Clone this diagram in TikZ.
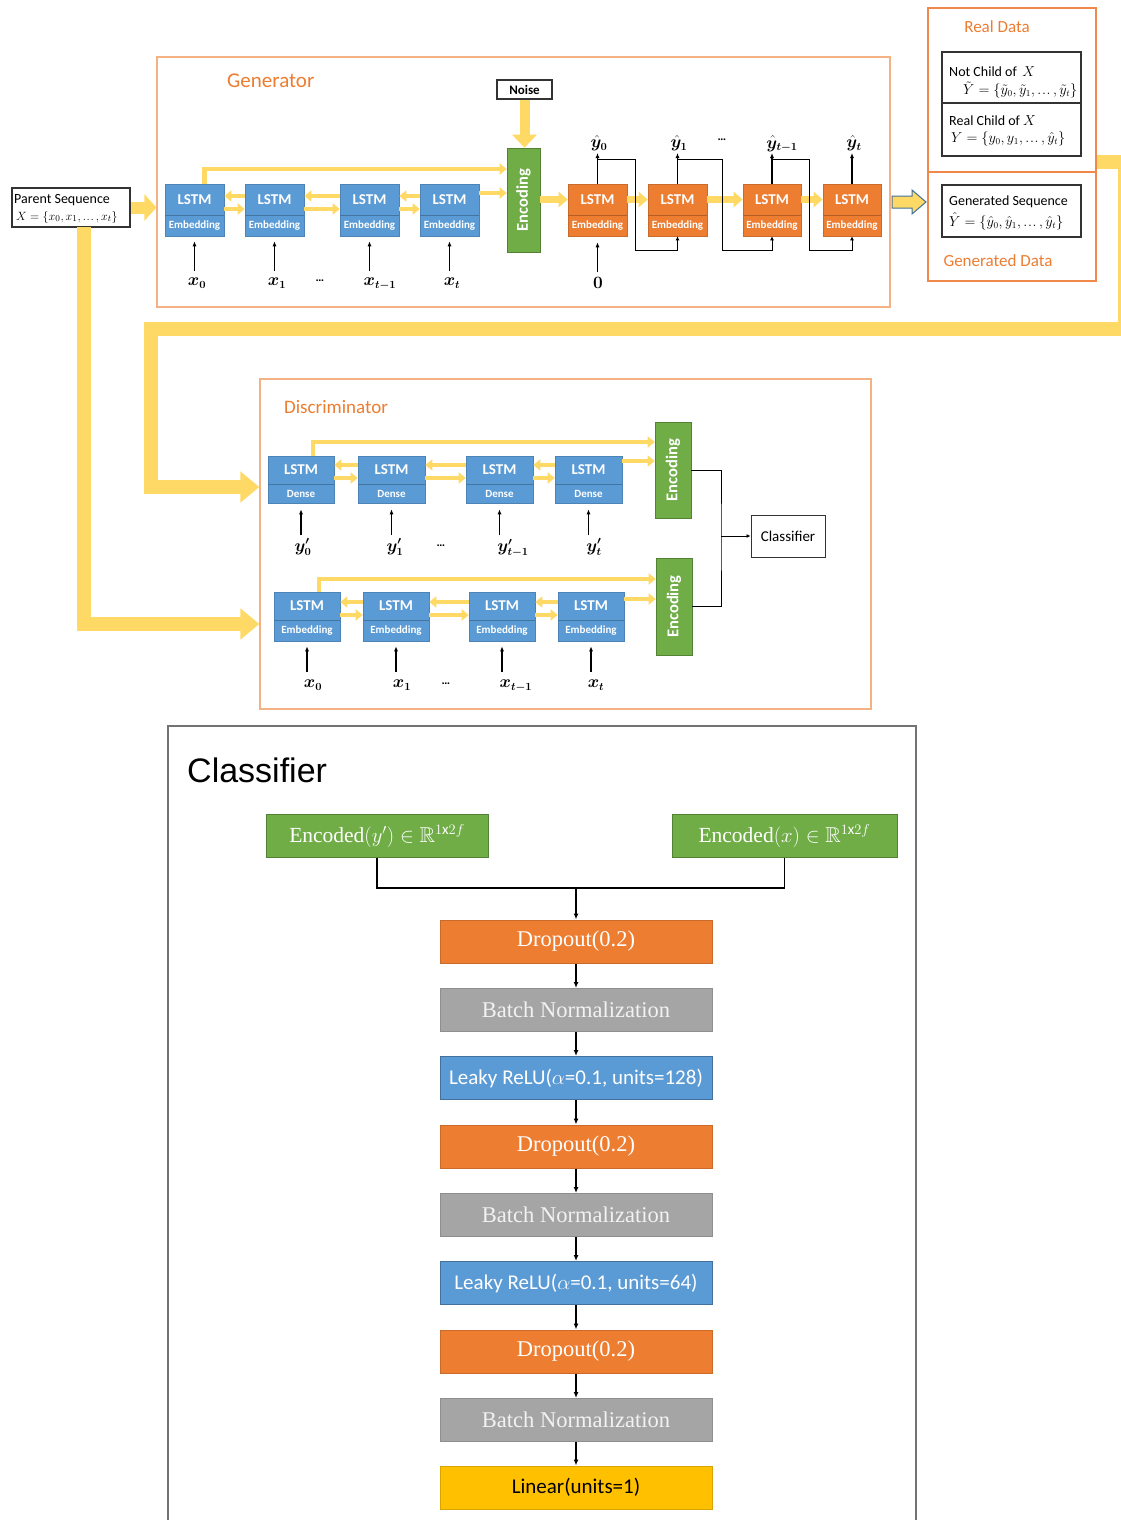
\documentclass[tikz,border=0pt]{standalone}
\usepackage{amsmath,amssymb,bm}
\usepackage{fontspec}
\setmainfont{Carlito}
\newfontfamily\serifcam{Liberation Serif}
\newfontfamily\arialf{Liberation Sans}
\usetikzlibrary{arrows.meta,fit,calc}
\definecolor{cblue}{HTML}{5B9BD5}
\definecolor{corange}{HTML}{ED7D31}
\definecolor{cgreen}{HTML}{70AD47}
\definecolor{cgreenD}{HTML}{548235}
\definecolor{cgray}{HTML}{A5A5A5}
\definecolor{cgrayD}{HTML}{8E8E8E}
\definecolor{cyel}{HTML}{FFD966}
\definecolor{cgold}{HTML}{FFC000}
\definecolor{cframe}{HTML}{F4B183}
\definecolor{cframeD}{HTML}{F0884A}
\definecolor{cblueD}{HTML}{41719C}
\newcommand\cdts{\mathinner{\ldotp\mkern-2mu\ldotp\mkern-2mu\ldotp}}
\newcommand\cell[8]{%
  \pgfmathsetmacro\mycx{(#2+#4)/2}%
  \pgfmathsetmacro\mytopy{(#3+#6)/2}%
  \pgfmathsetmacro\mybty{(#6+#5)/2}%
  \node[cellbox, fill=#7, draw=#7!85!black, fit={(#2,#3)(#4,#5)}] (#1) {};
  \draw[#7!75!black, line width=0.8pt] (#2,#6) -- (#4,#6);
  \node[celltop] (#1t) at (\mycx,\mytopy) {LSTM};
  \node[cellbot] (#1b) at (\mycx,\mybty) {#8};
}
\begin{document}
\begin{tikzpicture}[x=1pt,y=-1pt,
  cellbox/.style={inner sep=0pt, line width=0.6pt},
  celltop/.style={text=white, inner sep=0pt, font=\bfseries\fontsize{15}{17}\selectfont},
  cellbot/.style={text=white, inner sep=0pt, font=\bfseries\fontsize{11}{13}\selectfont},
  frame/.style={draw=cframe, line width=1.2pt, inner sep=0pt},
  frameD/.style={draw=cframeD, line width=1.2pt, inner sep=0pt},
  blackbox/.style={draw=black!80, line width=1.2pt, inner sep=0pt},
  enc/.style={fill=cgreen, draw=cgreenD, line width=0.6pt, inner sep=0pt},
  enctext/.style={text=white, rotate=90, inner sep=0pt, font=\bfseries\fontsize{16.5}{18}\selectfont},
  ttl/.style={text=corange, inner sep=0pt, font=\fontsize{19}{22}\selectfont},
  ysm/.style={draw=cyel, line width=4.5pt, -{Triangle[length=7pt,width=11pt]}},
  ymid/.style={draw=cyel, line width=7pt, -{Triangle[length=9pt,width=15pt]}},
  bigyl/.style={draw=cyel, line width=14pt, line join=miter, -{Triangle[length=19pt,width=30pt]}},
  blk/.style={draw=black, line width=1.1pt, -{Latex[length=5pt,width=4pt]}},
  fb/.style={draw=black, line width=1pt, -{Latex[length=4pt,width=4pt]}},
  lbl/.style={inner sep=1pt, font=\fontsize{16}{18}\selectfont},
  dots/.style={inner sep=0pt, font=\bfseries\fontsize{12}{14}\selectfont},
  small/.style={inner sep=0pt, anchor=west, font=\fontsize{14}{16}\selectfont},
  smallm/.style={inner sep=0pt, anchor=west, font=\fontsize{13.4}{16}\selectfont},
  stk/.style={minimum width=272pt, minimum height=43pt, inner sep=0pt, line width=1pt, text=white, font=\fontsize{22.5}{26}\selectfont},
  stkarr/.style={draw=black, line width=1.2pt, -{Latex[length=6pt,width=5pt]}}
]
\useasboundingbox (0,0) rectangle (1121,1520);
\fill[white] (0,0) rectangle (1121,1520);

% ---------------- Generator ----------------
\node[frame, fit={(157,57)(890,307)}] (gbox) {};
\node[ttl, anchor=west, font=\fontsize{21}{24}\selectfont] (gttl) at (227,81) {Generator};

\node[blackbox, fit={(12,188)(130,227)}] (ps) {};
\node[small] (pst1) at (14,200) {Parent Sequence};
\node[smallm, font=\fontsize{12.6}{15}\selectfont] (pst2) at (16,217) {$X=\{x_0,x_1,\cdts,x_t\}$};

\cell{g1}{165}{184}{224}{236}{215}{cblue}{Embedding}
\cell{g2}{245}{184}{304}{236}{215}{cblue}{Embedding}
\cell{g3}{340}{184}{399}{236}{215}{cblue}{Embedding}
\cell{g4}{420}{184}{479}{236}{215}{cblue}{Embedding}

\node[enc, fit={(507,148)(540,252)}] (genc) {};
\node[enctext] (genct) at (genc.center) {Encoding};
\node[blackbox, fit={(497,80)(552,99)}] (noise) {};
\node[inner sep=0pt, font=\bfseries\fontsize{13}{15}\selectfont] (noiset) at (noise.center) {Noise};

\cell{o1}{568}{184}{627}{236}{215}{corange}{Embedding}
\cell{o2}{648}{184}{707}{236}{215}{corange}{Embedding}
\cell{o3}{743}{184}{801}{236}{215}{corange}{Embedding}
\cell{o4}{823}{184}{881}{236}{215}{corange}{Embedding}

% generator yellow arrows
\coordinate (gyu) at (0,196);
\coordinate (gyl) at (0,209);
\coordinate (gyb) at (0,169);
\coordinate (gy4) at (0,193);
\draw[ysm] (g2.west |- gyu) -- (g1.east |- gyu);
\draw[ysm] (g1.east |- gyl) -- (g2.west |- gyl);
\draw[ysm] (g3.west |- gyu) -- (g2.east |- gyu);
\draw[ysm] (g2.east |- gyl) -- (g3.west |- gyl);
\draw[ysm] (g4.west |- gyu) -- (g3.east |- gyu);
\draw[ysm] (g3.east |- gyl) -- (g4.west |- gyl);
\draw[ysm] ($(g1.north)+(10,0)$) |- (genc.west |- gyb);
\draw[ysm] (g4.east |- gy4) -- (genc.west |- gy4);
\draw[draw=cyel, line width=10pt, -{Triangle[length=13pt,width=24pt]}] (noise.south) -- (genc.north -| noise.south);
\draw[ymid] (genc.east |- o1t) -- (o1.west |- o1t);
\draw[ymid] (o1.east |- o1t) -- (o2.west |- o1t);
\draw[ymid] (o2.east |- o1t) -- (o3.west |- o1t);
\draw[ymid] (o3.east |- o1t) -- (o4.west |- o1t);
\draw[draw=cyel, line width=12pt, -{Triangle[length=12pt,width=26pt]}] (ps.east) -- (gbox.west |- ps.east);

% x inputs
\node[lbl] (gx0) at (197,283) {$\bm{x_0}$};
\node[lbl] (gx1) at (277,283) {$\bm{x_1}$};
\node[lbl] (gx2) at (380,284) {$\bm{x_{t-1}}$};
\node[lbl] (gx3) at (452,283) {$\bm{x_t}$};
\node[dots] (gdots) at (320,281) {…};
\draw[blk] (g1.south |- 0,271) -- ($(g1.south)+(0,5)$);
\draw[blk] (g2.south |- 0,271) -- ($(g2.south)+(0,5)$);
\draw[blk] (g3.south |- 0,271) -- ($(g3.south)+(0,5)$);
\draw[blk] (g4.south |- 0,271) -- ($(g4.south)+(0,5)$);
\node[lbl] (zero) at (598,283) {$\bm{0}$};
\draw[blk] (o1.south |- 0,272) -- ($(o1.south)+(0,6)$);

% y hat outputs
\node[lbl] (yh0) at (599,143) {$\bm{\hat y_0}$};
\node[lbl] (yh1) at (679,143) {$\bm{\hat y_1}$};
\node[lbl] (yh2) at (782,144) {$\bm{\hat y_{t-1}}$};
\node[lbl] (yh3) at (854,143) {$\bm{\hat y_t}$};
\node[dots] (ydots) at (722,140) {…};
\draw[blk] (o1.north) -- (o1.north |- 0,153);
\draw[blk] (o2.north) -- (o2.north |- 0,153);
\draw[blk] (o3.north) -- (o3.north |- 0,153);
\draw[blk] (o4.north) -- (o4.north |- 0,153);
\draw[fb] ($(o1.north)+(0,-24)$) -| ++(38,91) -| (o2.south);
\draw[fb] ($(o2.north)+(0,-24)$) -| ++(44.5,91) -| (o3.south);
\draw[fb] ($(o3.north)+(0,-24)$) -| ++(37,91) -| (o4.south);

% ---------------- Real / Generated data ----------------
\node[frameD, fit={(928,8)(1096,172)}] (rdbox) {};
\node[ttl, font=\fontsize{17}{20}\selectfont] (rdt) at (997,27) {Real Data};
\node[blackbox, fit={(942,52)(1081,156)}] (rdin) {};
\draw[black!80, line width=1.2pt] (rdin.west |- 0,103) -- (rdin.east |- 0,103);
\node[small] (rt1) at (949,72) {Not Child of \,$X$};
\node[smallm] (rt2) at (963,90) {$\tilde Y=\{\tilde y_0,\tilde y_1,\cdts,\tilde y_t\}$};
\node[small] (rt3) at (949,121) {Real Child of $X$};
\node[smallm] (rt4) at (951,139) {$Y=\{y_0,y_1,\cdts,\hat y_t\}$};
\node[frameD, fit={(928,172)(1096,281)}] (gdbox) {};
\node[ttl, font=\fontsize{17}{20}\selectfont] (gdt) at (998,261) {Generated Data};
\node[blackbox, fit={(942,185)(1081,237)}] (gdin) {};
\node[small] (gt1) at (949,202) {Generated Sequence};
\node[smallm] (gt2) at (949,221) {$\hat Y=\{\hat y_0,\hat y_1,\cdts,\hat y_t\}$};
\draw[draw=cblueD, fill=cyel, line width=1pt, line join=miter] (892,196) -- (912,196) -- (912,190) -- (926,202) -- (912,214) -- (912,208) -- (892,208) -- cycle;

% ---------------- Discriminator ----------------
\node[frame, fit={(260,379)(871,709)}] (dbox) {};
\node[ttl, anchor=west, font=\fontsize{19}{22}\selectfont] (dttl) at (284,407) {Discriminator};

\cell{d1}{268}{456}{334}{503}{484}{cblue}{Dense}
\cell{d2}{358}{456}{425}{503}{484}{cblue}{Dense}
\cell{d3}{466}{456}{533}{503}{484}{cblue}{Dense}
\cell{d4}{555}{456}{622}{503}{484}{cblue}{Dense}
\cell{e1}{274}{592}{340}{641}{620}{cblue}{Embedding}
\cell{e2}{363}{592}{429}{641}{620}{cblue}{Embedding}
\cell{e3}{469}{592}{535}{641}{620}{cblue}{Embedding}
\cell{e4}{558}{592}{624}{641}{620}{cblue}{Embedding}
\node[enc, fit={(655,422)(691,518)}] (denc1) {};
\node[enctext] (denc1t) at (denc1.center) {Encoding};
\node[enc, fit={(656,558)(692,655)}] (denc2) {};
\node[enctext] (denc2t) at (denc2.center) {Encoding};

\coordinate (dyu) at (0,465);
\coordinate (dyl) at (0,478);
\coordinate (dyb) at (0,442);
\coordinate (dy4) at (0,461);
\draw[ysm] (d2.west |- dyu) -- (d1.east |- dyu);
\draw[ysm] (d1.east |- dyl) -- (d2.west |- dyl);
\draw[ysm] (d3.west |- dyu) -- (d2.east |- dyu);
\draw[ysm] (d2.east |- dyl) -- (d3.west |- dyl);
\draw[ysm] (d4.west |- dyu) -- (d3.east |- dyu);
\draw[ysm] (d3.east |- dyl) -- (d4.west |- dyl);
\draw[ysm] ($(d1.north)+(12,0)$) |- (denc1.west |- dyb);
\draw[ysm] (d4.east |- dy4) -- (denc1.west |- dy4);

\coordinate (eyu) at (0,602);
\coordinate (eyl) at (0,615);
\coordinate (eyb) at (0,579);
\coordinate (ey4) at (0,599);
\draw[ysm] (e2.west |- eyu) -- (e1.east |- eyu);
\draw[ysm] (e1.east |- eyl) -- (e2.west |- eyl);
\draw[ysm] (e3.west |- eyu) -- (e2.east |- eyu);
\draw[ysm] (e2.east |- eyl) -- (e3.west |- eyl);
\draw[ysm] (e4.west |- eyu) -- (e3.east |- eyu);
\draw[ysm] (e3.east |- eyl) -- (e4.west |- eyl);
\draw[ysm] ($(e1.north)+(12,0)$) |- (denc2.west |- eyb);
\draw[ysm] (e4.east |- ey4) -- (denc2.west |- ey4);

\node[lbl] (dy0) at (303,547) {$\bm{y'_0}$};
\node[lbl] (dy1) at (395,547) {$\bm{y'_1}$};
\node[lbl] (dy2) at (513,548) {$\bm{y'_{t-1}}$};
\node[lbl] (dy3) at (594,547) {$\bm{y'_t}$};
\node[dots] (dydots) at (441,546) {…};
\draw[blk] (d1.south |- 0,535) -- ($(d1.south)+(0,6)$);
\draw[blk] (d2.south |- 0,535) -- ($(d2.south)+(0,6)$);
\draw[blk] (d3.south |- 0,535) -- ($(d3.south)+(0,6)$);
\draw[blk] (d4.south |- 0,535) -- ($(d4.south)+(0,6)$);

\node[lbl] (ex0) at (313,685) {$\bm{x_0}$};
\node[lbl] (ex1) at (402,685) {$\bm{x_1}$};
\node[lbl] (ex2) at (516,686) {$\bm{x_{t-1}}$};
\node[lbl] (ex3) at (596,685) {$\bm{x_t}$};
\node[dots] (exdots) at (446,684) {…};
\draw[blk] (e1.south |- 0,672) -- ($(e1.south)+(0,5)$);
\draw[blk] (e2.south |- 0,672) -- ($(e2.south)+(0,5)$);
\draw[blk] (e3.south |- 0,672) -- ($(e3.south)+(0,5)$);
\draw[blk] (e4.south |- 0,672) -- ($(e4.south)+(0,5)$);

\node[blackbox, line width=1pt, fit={(751,515)(825,557)}] (clf) {};
\node[inner sep=0pt, font=\fontsize{15}{17}\selectfont] (clft) at (clf.center) {Classifier};
\coordinate (jc) at (721,536);
\draw[black, line width=1pt] (denc1.east) -| (jc) |- (denc2.east);
\draw[fb] (jc) -- (clf.west);

% big yellow connectors
\coordinate (psb) at (84,227);
\draw[bigyl] (rdbox.east |- 0,162) -- (1125,162) -- (1125,329) -- (151,329) -- (151,487) -- (dbox.west |- 0,487);
\draw[bigyl] (psb) -- (84,624) -- (dbox.west |- 0,624);

% ---------------- Classifier ----------------
\draw[draw=black!55, line width=1.2pt] (168,1530) -- (168,726) -- (916,726) -- (916,1530);
\node[anchor=west, inner sep=0pt, font=\arialf\fontsize{34}{40}\selectfont] (ctitle) at (187,770) {Classifier};
\node[stk, minimum width=222pt, fill=cgreen, draw=cgreenD, font=\fontsize{21.5}{25}\selectfont] (ey) at (377,836) {\serifcam Encoded$(y')\in\mathbb{R}^{1\mathrm{x}2f}$};
\node[stk, minimum width=225pt, fill=cgreen, draw=cgreenD, font=\fontsize{21.5}{25}\selectfont] (ex) at (784.5,836) {\serifcam Encoded$(x)\in\mathbb{R}^{1\mathrm{x}2f}$};
\coordinate (jn) at (576,888);
\draw[black, line width=1.2pt] (ey.south) |- (jn) -| (ex.south);

\node[stk, fill=corange, draw=corange!85!black] (s1) at (576,941.5) {\serifcam Dropout(0.2)};
\node[stk, fill=cgray, draw=cgrayD, text=white!95!black] (s2) at (576,1010) {\serifcam Batch Normalization};
\node[stk, fill=cblue, draw=cblueD, font=\fontsize{21}{24}\selectfont] (s3) at (576,1078) {Leaky ReLU($\alpha$=0.1, units=128)};
\node[stk, fill=corange, draw=corange!85!black] (s4) at (576,1146.5) {\serifcam Dropout(0.2)};
\node[stk, fill=cgray, draw=cgrayD, text=white!95!black] (s5) at (576,1215) {\serifcam Batch Normalization};
\node[stk, fill=cblue, draw=cblueD, font=\fontsize{21}{24}\selectfont] (s6) at (576,1283) {Leaky ReLU($\alpha$=0.1, units=64)};
\node[stk, fill=corange, draw=corange!85!black] (s7) at (576,1351.5) {\serifcam Dropout(0.2)};
\node[stk, fill=cgray, draw=cgrayD, text=white!95!black] (s8) at (576,1420) {\serifcam Batch Normalization};
\node[stk, fill=cgold, draw=cgold!85!black, text=black, font=\fontsize{21}{24}\selectfont] (s9) at (576,1487.5) {Linear(units=1)};
\draw[stkarr] (jn) -- (s1.north);
\draw[stkarr] (s1.south) -- (s2.north);
\draw[stkarr] (s2.south) -- (s3.north);
\draw[stkarr] (s3.south) -- (s4.north);
\draw[stkarr] (s4.south) -- (s5.north);
\draw[stkarr] (s5.south) -- (s6.north);
\draw[stkarr] (s6.south) -- (s7.north);
\draw[stkarr] (s7.south) -- (s8.north);
\draw[stkarr] (s8.south) -- (s9.north);
\end{tikzpicture}
\end{document}
